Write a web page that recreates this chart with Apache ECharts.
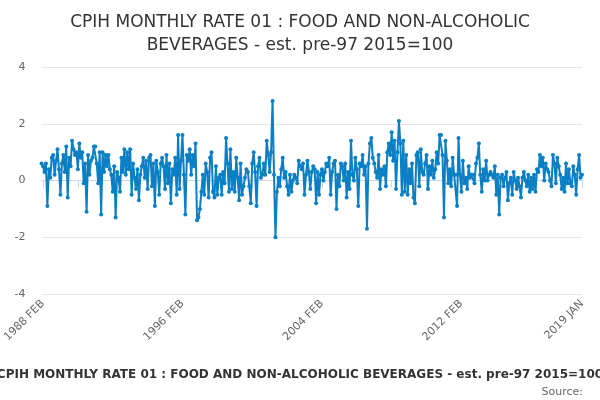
<!DOCTYPE html>
<html>
<head>
  <meta charset="UTF-8">
  <title>CPIH food monthly rate</title>
  <style>
    body { margin: 0; }
    #main { width: 600px; height: 400px; }
  </style>
  <script src="https://cdn.jsdelivr.net/npm/echarts@6/dist/echarts.min.js"></script>
</head>
<body>
<div id="main"></div>
<script type="text/javascript">
  const startYear = 1988;
  const months = ['JAN', 'FEB', 'MAR', 'APR', 'MAY', 'JUN', 'JUL', 'AUG', 'SEP', 'OCT', 'NOV', 'DEC'];
  const yTicks = [-4, -2, 0, 2, 4];

  // monthly rate, one row per year, 1988 JAN .. 2019 JAN
  const values = [
    0.6, 0.5, 0.3, 0.6, -0.9, 0.4, 0.1, 0.8, 0.9, 0.2, 0.7, 1.1,
    0.4, -0.5, 0.6, 0.9, 0.3, 1.2, -0.6, 0.8, 0.5, 1.4, 1.1, 0.9,
    1.0, 0.4, 1.3, 0.8, 1.0, -0.1, 0.6, -1.1, 0.9, 0.2, 0.7, 0.8,
    1.2, 1.2, 0.6, -0.1, 1.0, -1.2, 1.0, 0.3, 0.9, 0.5, 0.9, 0.4,
    0.2, -0.4, 0.5, -1.3, 0.3, 0.1, -0.4, 0.8, 0.3, 1.1, 0.2, 1.0,
    0.4, 1.1, -0.5, 0.6, 0.1, -0.3, 0.4, -0.7, 0.2, 0.5, 0.8, 0.1,
    0.7, -0.3, 0.8, 0.9, -0.2, 0.6, -0.9, 0.7, 0.3, -0.5, 0.6, 0.8,
    0.5, -0.3, 0.9, -0.1, 0.6, -0.8, 0.4, 0.2, 0.8, -0.5, 1.6, -0.3,
    0.7, 1.6, 0.2, -1.2, 0.9, 0.7, 1.1, 0.2, 0.9, 0.5, 1.3, -1.4,
    -1.3, -1.0, -0.4, 0.2, -0.5, 0.6, 0.3, -0.6, 0.8, 1.0, -0.4, -0.6,
    0.5, -0.5, 0.1, 0.2, -0.5, 0.3, -0.1, 1.5, 0.6, -0.4, 1.1, -0.3,
    0.3, -0.4, 0.8, 0.1, -0.7, 0.6, -0.5, -0.2, 0.1, 0.4, 0.3, -0.2,
    -0.8, 0.6, 1.0, 0.3, -0.9, 0.5, 0.8, 0.1, 0.2, 0.6, 0.2, 1.4,
    0.9, 0.3, 1.0, 2.8, 0.2, -2.0, -0.4, 0.1, -0.2, 0.4, 0.8, 0.1,
    0.3, -0.2, -0.5, 0.2, -0.4, 0.0, 0.2, 0.1, -0.1, 0.7, 0.5, 0.4,
    0.6, -0.5, 0.2, 0.7, 0.3, -0.3, 0.3, 0.5, 0.4, -0.8, 0.3, -0.5,
    0.2, 0.4, 0.0, 0.3, 0.6, 0.5, 0.8, -0.5, 0.3, 0.6, 0.7, -1.0,
    0.2, -0.2, 0.6, 0.5, 0.0, 0.6, -0.6, 0.3, -0.3, 1.4, 0.2, 0.0,
    0.8, 0.4, -0.9, 0.6, 0.5, 0.9, 0.2, 0.5, -1.7, 0.6, 1.3, 1.5,
    0.8, 0.6, 0.3, 0.1, 0.9, -0.3, 0.4, 0.2, 0.5, -0.2, 1.0, 1.3,
    0.9, 1.7, 0.7, 1.4, -0.3, 1.0, 2.1, 1.3, -0.5, 1.4, -0.4, 0.9,
    -0.5, 0.4, -0.1, 0.6, -0.6, -0.8, 0.9, 1.0, -0.2, 1.1, 0.3, 0.2,
    0.6, 0.9, -0.3, 0.5, 0.2, 0.7, 0.1, 0.4, 1.0, 0.6, 1.6, 1.6,
    0.9, -1.3, 1.4, 0.7, -0.1, 0.4, -0.2, 0.8, 0.2, 0.2, -0.9, 1.5,
    0.2, -0.4, 0.7, -0.1, 0.1, -0.3, 0.5, 0.1, 0.2, 0.2, -0.1, 0.6,
    0.8, 1.3, 0.2, -0.4, 0.4, 0.0, 0.7, 0.0, 0.2, 0.3, 0.2, 0.1,
    0.5, -0.5, 0.2, -1.2, 0.1, 0.2, -0.2, 0.1, 0.3, -0.7, -0.1, 0.1,
    -0.5, 0.3, 0.0, -0.3, 0.1, -0.2, -0.6, 0.1, 0.3, 0.0, -0.2, 0.2,
    -0.4, 0.1, -0.3, 0.2, -0.4, 0.4, 0.3, 0.9, 0.5, 0.8, 0.0, 0.6,
    0.4, 0.3, 0.0, -0.2, 0.9, 0.6, -0.1, 0.8, 0.5, 0.2, -0.3, 0.1,
    -0.4, 0.6, -0.1, 0.4, -0.1, -0.2, 0.5, 0.2, -0.5, 0.4, 0.9, 0.1,
    0.2
  ];

  const categories = values.map(function (v, i) {
    return (startYear + Math.floor(i / 12)) + ' ' + months[i % 12];
  });
  const last = categories.length - 1;
  const seriesName = 'CPIH MONTHLY RATE 01 : FOOD AND NON-ALCOHOLIC BEVERAGES - est. pre-97 2015=100';

  const myChart = echarts.init(document.getElementById('main'));
  myChart.setOption({
    animation: false,
    textStyle: { fontFamily: 'DejaVu Sans' },
    title: [{
      text: 'CPIH MONTHLY RATE 01 : FOOD AND NON-ALCOHOLIC\nBEVERAGES - est. pre-97 2015=100',
      left: 'center',
      top: 6,
      textStyle: { fontSize: 17, fontWeight: 'normal', color: '#333', lineHeight: 23 }
    }, {
      text: seriesName,
      left: 'center',
      top: 364,
      textStyle: { fontSize: 12, fontWeight: 'bold', color: '#333' }
    }, {
      text: 'Source:',
      right: 12,
      top: 382,
      textStyle: { fontSize: 11, fontWeight: 'normal', color: '#666' }
    }],
    grid: { left: 37, right: 18, top: 67, bottom: 106 },
    xAxis: {
      type: 'category',
      data: categories,
      boundaryGap: false,
      axisLine: { lineStyle: { color: '#ccd6eb' } },
      axisTick: {
        lineStyle: { color: '#ccd6eb' },
        length: 8,
        interval: function (i) { return i === 0 || i % 24 === 1 || i === last; }
      },
      axisLabel: {
        rotate: 45,
        color: '#666',
        fontSize: 11,
        interval: function (i) { return i === 0 || (i % 96 === 1 && i < last - 30) || i === last; },
        formatter: function (v, i) { return i === 0 ? v.slice(0, 4) + ' ...' : v; }
      },
      splitLine: { show: false }
    },
    yAxis: {
      type: 'value',
      min: yTicks[0],
      max: yTicks[yTicks.length - 1],
      interval: 2,
      axisLine: { show: false },
      axisTick: { show: false },
      axisLabel: { color: '#666', fontSize: 11, margin: 16 },
      splitLine: { lineStyle: { color: '#e6e6e6' } }
    },
    series: [{
      name: seriesName,
      type: 'line',
      data: values,
      showAllSymbol: true,
      symbol: 'circle',
      symbolSize: 4,
      itemStyle: { color: '#0a7fc4' },
      lineStyle: { width: 2, color: '#0a7fc4' }
    }]
  });
</script>
</body>
</html>
